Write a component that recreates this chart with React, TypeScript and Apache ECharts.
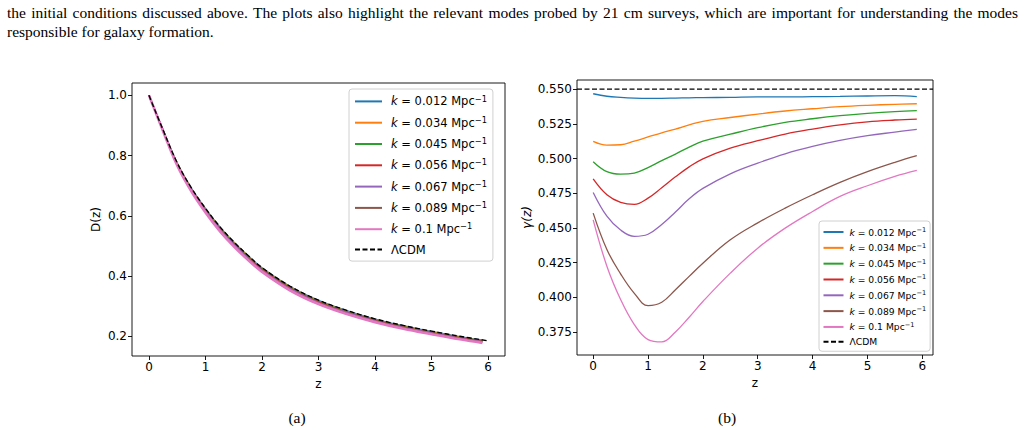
import React, { useEffect, useRef } from "react";
import * as echarts from "echarts";

// ---------- text ----------
const PARA_LINE1 =
  "the initial conditions discussed above. The plots also highlight the relevant modes probed by 21 cm surveys, which are important for understanding the modes";
const PARA_LINE2 = "responsible for galaxy formation.";
const CAPTIONS = ["(a)", "(b)"];

// ---------- legend labels / colours ----------
const K_VALUES = ["0.012", "0.034", "0.045", "0.056", "0.067", "0.089", "0.1"];
const K_LABELS = K_VALUES.map((k) => `k = ${k} Mpc−1`);
const LCDM_LABEL = "ΛCDM";
const COLORS = ["#1f77b4", "#ff7f0e", "#2ca02c", "#d62728", "#9467bd", "#8c564b", "#e377c2"];

// ---------- ticks ----------
const X_TICKS = [0, 1, 2, 3, 4, 5, 6];
const D_TICKS = [0.2, 0.4, 0.6, 0.8, 1.0];
const G_TICKS = [0.375, 0.4, 0.425, 0.45, 0.475, 0.5, 0.525, 0.55];

// ---------- data ----------
const Z = [0, 0.25, 0.5, 0.75, 1, 1.25, 1.5, 1.75, 2, 2.5, 3, 3.5, 4, 4.5, 5, 5.5, 5.9];
const Z_LCDM = [0, 0.25, 0.5, 0.75, 1, 1.25, 1.5, 1.75, 2, 2.5, 3, 3.5, 4, 4.5, 5, 5.5, 6];

const D_LCDM = [1.0, 0.885, 0.776, 0.693, 0.625, 0.565, 0.514, 0.469, 0.428, 0.366, 0.32, 0.286, 0.258, 0.236, 0.217, 0.2, 0.185];
const D_K012 = [1.0, 0.885, 0.775, 0.692, 0.624, 0.564, 0.513, 0.468, 0.427, 0.365, 0.319, 0.285, 0.257, 0.235, 0.216, 0.199, 0.187];
const D_K034 = [1.0, 0.884, 0.774, 0.69, 0.622, 0.562, 0.511, 0.466, 0.425, 0.363, 0.317, 0.283, 0.255, 0.233, 0.214, 0.197, 0.185];
const D_K045 = [1.0, 0.884, 0.773, 0.689, 0.621, 0.561, 0.51, 0.465, 0.424, 0.362, 0.316, 0.282, 0.254, 0.232, 0.213, 0.196, 0.184];
const D_K056 = [1.0, 0.883, 0.772, 0.688, 0.619, 0.559, 0.508, 0.463, 0.422, 0.36, 0.314, 0.28, 0.253, 0.231, 0.212, 0.195, 0.183];
const D_K067 = [1.0, 0.883, 0.771, 0.686, 0.617, 0.557, 0.506, 0.461, 0.42, 0.358, 0.312, 0.279, 0.251, 0.229, 0.211, 0.194, 0.182];
const D_K089 = [1.0, 0.882, 0.769, 0.683, 0.614, 0.553, 0.502, 0.457, 0.417, 0.355, 0.31, 0.276, 0.249, 0.227, 0.209, 0.192, 0.18];
const D_K100 = [1.0, 0.881, 0.767, 0.681, 0.611, 0.55, 0.499, 0.454, 0.414, 0.352, 0.307, 0.274, 0.247, 0.225, 0.207, 0.19, 0.178];

const G_LCDM = 0.55;
const G_K012 = [0.5466, 0.5448, 0.544, 0.5435, 0.5433, 0.5433, 0.5435, 0.5437, 0.5438, 0.544, 0.5443, 0.5443, 0.5445, 0.5447, 0.545, 0.5452, 0.5446];
const G_K034 = [0.5123, 0.5096, 0.5099, 0.5125, 0.5155, 0.5185, 0.5212, 0.5242, 0.5268, 0.5295, 0.532, 0.5342, 0.5358, 0.5373, 0.5383, 0.539, 0.5394];
const G_K045 = [0.4977, 0.4905, 0.4887, 0.4895, 0.4935, 0.4985, 0.5032, 0.5082, 0.5125, 0.5175, 0.5222, 0.526, 0.5286, 0.5308, 0.5325, 0.5338, 0.5344];
const G_K056 = [0.4854, 0.474, 0.4685, 0.467, 0.4715, 0.479, 0.4868, 0.494, 0.4998, 0.5075, 0.5128, 0.5176, 0.5212, 0.5242, 0.5264, 0.5277, 0.5284];
const G_K067 = [0.4756, 0.4585, 0.4485, 0.444, 0.4455, 0.4525, 0.4615, 0.471, 0.4785, 0.489, 0.4967, 0.5034, 0.5087, 0.513, 0.5164, 0.519, 0.521];
const G_K089 = [0.4607, 0.4345, 0.417, 0.403, 0.3942, 0.3966, 0.4056, 0.4152, 0.4247, 0.4415, 0.4537, 0.4643, 0.4739, 0.4828, 0.4905, 0.4972, 0.502];
const G_K100 = [0.4559, 0.4225, 0.3985, 0.3805, 0.3697, 0.368, 0.3752, 0.3858, 0.3971, 0.4175, 0.4355, 0.4499, 0.4619, 0.4727, 0.4804, 0.4871, 0.4914];

const D_SERIES = [D_K012, D_K034, D_K045, D_K056, D_K067, D_K089, D_K100];
const G_SERIES = [G_K012, G_K034, G_K045, G_K056, G_K067, G_K089, G_K100];

const FONT = "DejaVu Sans";
const SERIF = "Liberation Serif";
const PARA_SIZE = 15.5;

function pairs(xs: number[], ys: number[]) {
  return xs.map((x, i) => [x, ys[i]]);
}

function justifiedWords(text: string, x0: number, x1: number, y: number) {
  const words = text.split(" ");
  const canvas = document.createElement("canvas");
  const ctx = canvas.getContext("2d")!;
  ctx.font = `${PARA_SIZE}px "${SERIF}"`;
  const widths = words.map((w) => ctx.measureText(w).width);
  const total = widths.reduce((a, b) => a + b, 0);
  const gap = (x1 - x0 - total) / (words.length - 1);
  let x = x0;
  return words.map((w, i) => {
    const el = {
      type: "text",
      x,
      y,
      style: {
        text: w,
        font: `${PARA_SIZE}px "${SERIF}"`,
        fill: "#000",
        textAlign: "left",
        textVerticalAlign: "middle",
      },
    };
    x += widths[i] + gap;
    return el;
  });
}

function legendFormatter(name: string) {
  const t = name.replace(/^b:/, "");
  const m = t.match(/^k = (\S+) Mpc−1$/);
  if (m) return `{i|k}{n| = ${m[1]} Mpc}{s|−1}`;
  return `{n|${t}}`;
}

function richFor(size: number) {
  return {
    i: { fontStyle: "italic", fontSize: size, fontFamily: FONT, color: "#000", lineHeight: size * 1.2 },
    n: { fontSize: size, fontFamily: FONT, color: "#000", lineHeight: size * 1.2 },
    s: { fontSize: size * 0.72, fontFamily: FONT, color: "#000", verticalAlign: "top", lineHeight: size * 0.8 },
  };
}

function xAxis(gridIndex: number, min: number, max: number) {
  return {
    type: "value",
    gridIndex,
    min,
    max,
    axisLine: { show: false, onZero: false },
    axisTick: { show: true, length: 4, lineStyle: { color: "#000", width: 0.9 }, customValues: X_TICKS },
    axisLabel: { customValues: X_TICKS, fontSize: 12, color: "#000", fontFamily: FONT, margin: 5 },
    splitLine: { show: false },
    name: "z",
    nameLocation: "middle",
    nameGap: 21,
    nameTextStyle: { fontSize: 12, color: "#000", fontFamily: FONT },
  };
}

function yAxis(gridIndex: number, min: number, max: number, ticks: number[], digits: number, name: string, gap: number, italic: boolean) {
  return {
    type: "value",
    gridIndex,
    min,
    max,
    axisLine: { show: false, onZero: false },
    axisTick: { show: true, length: 4, lineStyle: { color: "#000", width: 0.9 }, customValues: ticks },
    axisLabel: {
      customValues: ticks,
      fontSize: 12,
      color: "#000",
      fontFamily: FONT,
      margin: 5,
      formatter: (v: number) => v.toFixed(digits),
    },
    splitLine: { show: false },
    name,
    nameLocation: "middle",
    nameRotate: 90,
    nameGap: gap,
    nameTextStyle: { fontSize: 12, color: "#000", fontFamily: FONT, fontStyle: italic ? "italic" : "normal" },
  };
}

export default function App() {
  const ref = useRef<HTMLDivElement>(null);

  useEffect(() => {
    if (!ref.current) return;
    const chart = echarts.init(ref.current, undefined, { renderer: "svg" });

    const series: any[] = [];
    D_SERIES.forEach((d, i) => {
      series.push({
        type: "line",
        name: K_LABELS[i],
        xAxisIndex: 0,
        yAxisIndex: 0,
        data: pairs(Z, d),
        symbol: "none",
        smooth: 0.4,
        lineStyle: { color: COLORS[i], width: i === 6 ? 2.6 : 1.4 },
        itemStyle: { color: COLORS[i] },
      });
    });
    series.push({
      type: "line",
      name: LCDM_LABEL,
      xAxisIndex: 0,
      yAxisIndex: 0,
      data: pairs(Z_LCDM, D_LCDM),
      symbol: "none",
      smooth: 0.4,
      lineStyle: { color: "#000", width: 1.4, type: [5, 2.5] },
      itemStyle: { color: "#000" },
    });
    G_SERIES.forEach((g, i) => {
      series.push({
        type: "line",
        name: "b:" + K_LABELS[i],
        xAxisIndex: 1,
        yAxisIndex: 1,
        data: pairs(Z, g),
        symbol: "none",
        smooth: 0.4,
        lineStyle: { color: COLORS[i], width: 1.3 },
        itemStyle: { color: COLORS[i] },
      });
    });
    series.push({
      type: "line",
      name: "b:" + LCDM_LABEL,
      xAxisIndex: 1,
      yAxisIndex: 1,
      data: [
        [-0.295, G_LCDM],
        [6.195, G_LCDM],
      ],
      symbol: "none",
      lineStyle: { color: "#000", width: 1.3, type: [5, 2.5] },
      itemStyle: { color: "#000" },
    });

    const capStyle = (t: string) => ({
      text: t,
      font: `${PARA_SIZE}px "${SERIF}"`,
      fill: "#000",
      textAlign: "center",
      textVerticalAlign: "middle",
    });

    const graphic: any[] = [
      ...justifiedWords(PARA_LINE1, 7, 1018, 12),
      {
        type: "text",
        x: 7,
        y: 31,
        style: {
          text: PARA_LINE2,
          font: `${PARA_SIZE}px "${SERIF}"`,
          fill: "#000",
          textAlign: "left",
          textVerticalAlign: "middle",
        },
      },
      { type: "text", x: 297, y: 417, style: capStyle(CAPTIONS[0]) },
      { type: "text", x: 727, y: 417, style: capStyle(CAPTIONS[1]) },
    ];

    const legendCommon = {
      orient: "vertical",
      borderColor: "#d0d0d0",
      borderWidth: 1,
      borderRadius: 3,
      backgroundColor: "rgba(255,255,255,0.8)",
      formatter: legendFormatter,
      selectedMode: false,
      itemStyle: { opacity: 0 },
    };

    chart.setOption({
      animation: false,
      backgroundColor: "#fff",
      grid: [
        { left: 132, top: 83, width: 373, height: 273, show: true, borderColor: "#000", borderWidth: 0.9, backgroundColor: "transparent" },
        { left: 577, top: 80, width: 356, height: 275, show: true, borderColor: "#000", borderWidth: 0.9, backgroundColor: "transparent" },
      ],
      xAxis: [xAxis(0, -0.3, 6.3), xAxis(1, -0.295, 6.195)],
      yAxis: [
        yAxis(0, 0.1345, 1.041, D_TICKS, 1, "D(z)", 30, false),
        yAxis(1, 0.3586, 0.5565, G_TICKS, 3, "γ(z)", 44, true),
      ],
      legend: [
        {
          ...legendCommon,
          data: [...K_LABELS, LCDM_LABEL],
          left: 349,
          top: 89,
          padding: [5.5, 6, 5.5, 5],
          itemGap: 8.4,
          itemWidth: 27,
          itemHeight: 14,
          textStyle: { fontSize: 11.5, fontFamily: FONT, color: "#000", padding: [0, 0, 0, 4], rich: richFor(11.5) },
        },
        {
          ...legendCommon,
          data: [...K_LABELS.map((k) => "b:" + k), "b:" + LCDM_LABEL],
          left: 819,
          top: 221,
          padding: [5.5, 4, 5, 3.5],
          itemGap: 5.8,
          itemWidth: 20,
          itemHeight: 10,
          textStyle: { fontSize: 9.2, fontFamily: FONT, color: "#000", padding: [0, 0, 0, 1], rich: richFor(9.2) },
        },
      ],
      series,
      graphic,
    });

    return () => chart.dispose();
  }, []);

  return (
    <div
      ref={ref}
      style={{ position: "absolute", left: 0, top: 0, width: 1025, height: 430, background: "#fff" }}
    />
  );
}
